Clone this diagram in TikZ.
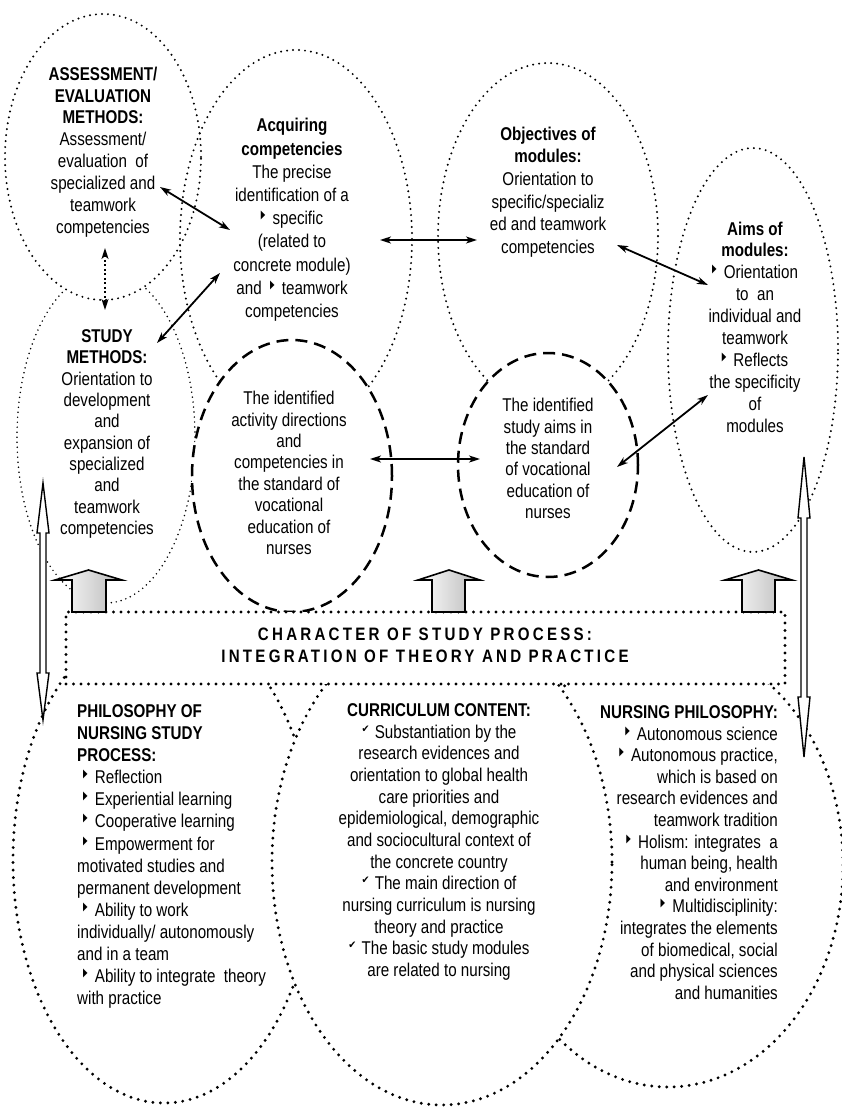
\documentclass[tikz,border=0pt]{standalone}
\usepackage{fontspec}
\usepackage{graphicx}
\setmainfont{Liberation Sans}[FakeStretch=0.82]
\newfontfamily\symfont{DejaVu Sans}
\newfontfamily\spacedfont{Liberation Sans}[LetterSpace=18,FakeStretch=0.84]
\usetikzlibrary{shapes.geometric,arrows.meta}
\newcommand\tri{\raisebox{6pt}{\resizebox{4.5pt}{7.5pt}{\symfont ▶}}\hspace{3pt}}
\newcommand\chk{\raisebox{6pt}{\resizebox{8pt}{6.5pt}{\symfont ✔}}\hspace{1pt}}
\tikzset{
  dotA/.style={draw,line width=2.2pt,dash pattern=on 0pt off 6pt,line cap=round},
  dotThin/.style={draw,line width=1.7pt,dash pattern=on 0pt off 5pt,line cap=round},
  dotB/.style={draw,line width=3.2pt,dash pattern=on 0pt off 7.5pt,line cap=round},
  dashE/.style={draw,line width=2.5pt,dash pattern=on 12pt off 7pt},
  ell/.style={ellipse,inner sep=0pt},
  txt/.style={align=center,inner sep=0pt},
  fs/.style={font=\fontsize{18.5}{#1}\selectfont},
  arr/.style={line width=1.8pt,{Stealth[length=11pt,width=7pt,inset=3pt]}-{Stealth[length=11pt,width=7pt,inset=3pt]}},
  blockarr/.style={draw,line width=1.6pt,left color=white,right color=black!28},
  dblarr/.style={draw,line width=1.4pt,fill=white,line join=miter}
}
\begin{document}
\begin{tikzpicture}[x=1pt,y=-1pt]
\useasboundingbox (0,0) rectangle (841,1108);
% top ellipses
\node[ell,dotThin,minimum width=178pt,minimum height=332pt] (eStudy) at (106,437) {};
\node[ell,dotA,fill=white,minimum width=196pt,minimum height=286pt] (eAssess) at (103,157) {};
\node[ell,dotA,minimum width=232pt,minimum height=378pt] (eAcq) at (296,239) {};
\node[ell,dotA,minimum width=220pt,minimum height=346pt] (eObj) at (548,236) {};
\node[ell,dotA,minimum width=170pt,minimum height=404pt] (eAims) at (753,350) {};
\node[ell,dashE,fill=white,minimum width=200pt,minimum height=272pt] (eDashL) at (292,476) {};
\node[ell,dashE,fill=white,minimum width=180pt,minimum height=224pt] (eDashR) at (548,465) {};
% bottom ellipses
\node[ell,dotB,fill=white,minimum width=302pt,minimum height=486pt] (ePhil) at (164,860) {};
\node[ell,dotB,fill=white,minimum width=350pt,minimum height=444pt] (eNurs) at (668,865) {};
\node[ell,dotB,fill=white,minimum width=340pt,minimum height=486pt] (eCurr) at (442,862) {};
% central rectangle
\node[dotB,fill=white,minimum width=719pt,minimum height=72pt,inner sep=0pt] (rect) at (425.5,648) {};
\node[txt,font=\spacedfont\bfseries\fontsize{18}{22}\selectfont] (rectTxt) at (425,645)
  {CHARACTER OF STUDY PROCESS:\\INTEGRATION OF THEORY AND PRACTICE};
% block arrows
\path[blockarr] (55,580) -- (88.5,570) -- (122,580) -- (106,580) -- (106,612) -- (72,612) -- (72,580) -- cycle;
\path[blockarr] (418,580) -- (449,570) -- (480,580) -- (465,580) -- (465,612) -- (432,612) -- (432,580) -- cycle;
\path[blockarr] (725,580) -- (758.5,570) -- (792,580) -- (775,580) -- (775,612) -- (742,612) -- (742,580) -- cycle;
% double-line arrows
\path[dblarr] (43,483) -- (49,533) -- (46,533) -- (46,673) -- (49,673) -- (43,720) -- (37,673) -- (40,673) -- (40,533) -- (37,533) -- cycle;
\path[dblarr] (804,457) -- (810,518) -- (807,518) -- (807,697) -- (810,697) -- (804,757) -- (798,697) -- (801,697) -- (801,518) -- (798,518) -- cycle;
% texts
\node[txt,fs=21.9] (tAssess) at (103,152)
  {\textbf{ASSESSMENT/}\\\textbf{EVALUATION}\\\textbf{METHODS:}\\Assessment/\\evaluation~ of\\specialized and\\teamwork\\competencies};
\node[txt,fs=23.2] (tAcq) at (292,220)
  {\textbf{Acquiring}\\\textbf{competencies}\\The precise\\identification of a\\\tri\ specific\\(related to\\concrete module)\\and~ \tri\ teamwork\\competencies};
\node[txt,fs=22.6] (tObj) at (548,192)
  {\textbf{Objectives of}\\\textbf{modules:}\\Orientation to\\specific/specializ\\ed and teamwork\\competencies};
\node[txt,fs=21.9] (tAims) at (755,327)
  {\textbf{Aims of}\\\textbf{modules:}\\\tri\ Orientation\\to~ an\\individual and\\teamwork\\\tri\ Reflects\\the specificity\\of\\modules};
\node[txt,fs=21.3] (tStudy) at (107,434)
  {\textbf{STUDY}\\\textbf{METHODS:}\\Orientation to\\development\\and\\expansion of\\specialized\\and\\teamwork\\competencies};
\node[txt,fs=21.4] (tDashL) at (289,473)
  {The identified\\activity directions\\and\\competencies in\\the standard of\\vocational\\education of\\nurses};
\node[txt,fs=21.4] (tDashR) at (548,458.5)
  {The identified\\study aims in\\the standard\\of vocational\\education of\\nurses};
\node[inner sep=0pt,align=left,anchor=west,fs=22.1] (tPhil) at (77,856.5)
  {\textbf{PHILOSOPHY OF}\\\textbf{NURSING STUDY}\\\textbf{PROCESS:}\\
   \hspace*{6pt}\tri\ Reflection\\\hspace*{6pt}\tri\ Experiential learning\\\hspace*{6pt}\tri\ Cooperative learning\\
   \hspace*{6pt}\tri\ Empowerment for\\motivated studies and\\permanent development\\
   \hspace*{6pt}\tri\ Ability to work\\individually/ autonomously\\and in a team\\
   \hspace*{6pt}\tri\ Ability to integrate~ theory\\with practice};
\node[txt,fs=21.67] (tCurr) at (439,842)
  {\textbf{CURRICULUM CONTENT:}\\\chk\ Substantiation by the\\research evidences and\\orientation to global health\\care priorities and\\epidemiological, demographic\\and sociocultural context of\\the concrete country\\\chk\ The main direction of\\nursing curriculum is nursing\\theory and practice\\\chk\ The basic study modules\\are related to nursing};
\node[inner sep=0pt,align=right,anchor=east,fs=21.6] (tNurs) at (778,852.5)
  {\textbf{NURSING PHILOSOPHY:}\\\tri\ Autonomous science\\\tri\ Autonomous practice,\\which is based on\\research evidences and\\teamwork tradition\\\tri\ Holism: integrates~ a\\human being, health\\and environment\\\tri\ Multidisciplinity:\\integrates the elements\\of biomedical, social\\and physical sciences\\and humanities};
% connector end points
\coordinate (a1) at (160,187); \coordinate (a2) at (230,230);
\coordinate (b1) at (105,248); \coordinate (b2) at (105,310);
\coordinate (c1) at (220,273); \coordinate (c2) at (157,343);
\coordinate (d1) at (380,240); \coordinate (d2) at (477,240);
\coordinate (e1) at (617,245); \coordinate (e2) at (708,285);
\coordinate (f1) at (370,459); \coordinate (f2) at (480,459);
\coordinate (g1) at (617,467); \coordinate (g2) at (708,395);
\draw[arr] (a1) -- (a2);
\draw[arr,dash pattern=on 2pt off 2.5pt] (b1) -- (b2);
\draw[arr] (c1) -- (c2);
\draw[arr] (d1) -- (d2);
\draw[arr] (e1) -- (e2);
\draw[arr] (f1) -- (f2);
\draw[arr] (g1) -- (g2);
\end{tikzpicture}
\end{document}
